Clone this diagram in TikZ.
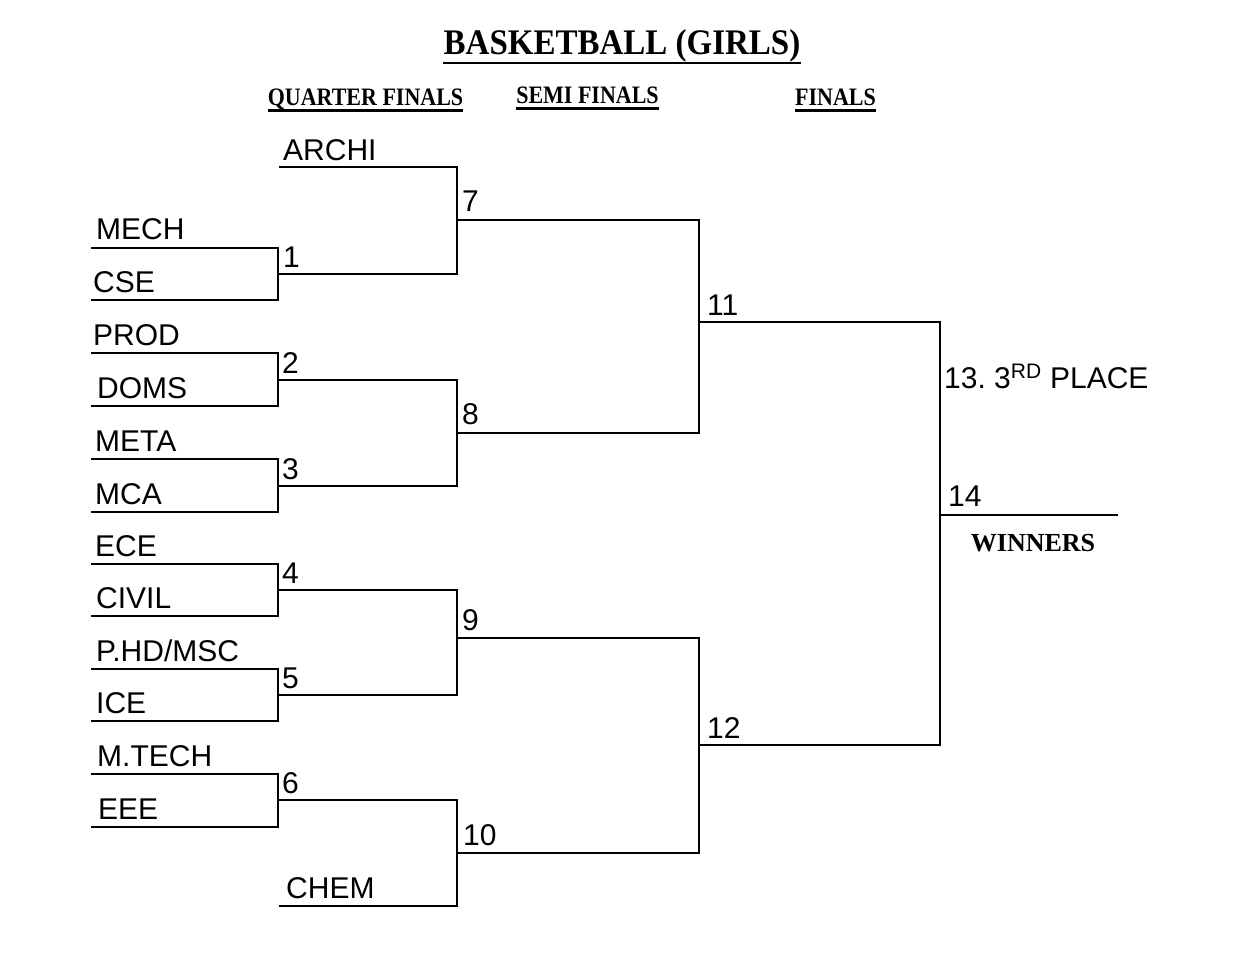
\documentclass[tikz,border=0pt]{standalone}
\usepackage{fontspec}
\setmainfont{Liberation Sans}
\newfontfamily\headfont{Liberation Serif}
\usetikzlibrary{calc}
\frenchspacing
\tikzset{
  bline/.style={line width=1.8pt, line join=miter},
  team/.style={anchor=base west, inner sep=0pt, font=\fontsize{30}{32}\selectfont},
  num/.style={anchor=base west, inner sep=0pt, font=\fontsize{30}{32}\selectfont},
  head/.style={anchor=base, inner sep=0pt, font=\headfont\bfseries\fontsize{22}{24}\selectfont},
  uline/.style={line width=2.2pt}
}
\begin{document}
\begin{tikzpicture}[x=1pt,y=-1pt]
\useasboundingbox (0,0) rectangle (1255,967);
% headings
\node[head, font=\headfont\bfseries\fontsize{33}{36}\selectfont] (title) at (622,54.5) {\scalebox{1}[1.09]{BASKETBALL (GIRLS)}};
\draw[line width=2.7pt] ($(title.base west)+(0,8.5)$) -- ($(title.base east)+(0,8.5)$);
\node[head] (qf) at (365.5,105) {\scalebox{1}[1.14]{QUARTER FINALS}};
\draw[uline] ($(qf.base west)+(0,5.5)$) -- ($(qf.base east)+(0,5.5)$);
\node[head] (sf) at (587.5,103) {\scalebox{1}[1.14]{SEMI FINALS}};
\draw[uline] ($(sf.base west)+(0,5.5)$) -- ($(sf.base east)+(0,5.5)$);
\node[head] (fi) at (835.5,105) {\scalebox{1}[1.14]{FINALS}};
\draw[uline] ($(fi.base west)+(0,5.5)$) -- ($(fi.base east)+(0,5.5)$);

% team line starts
\coordinate (tARCHI) at (279,167);
\coordinate (tMECH) at (91,248);
\coordinate (tCSE) at (91,300);
\coordinate (tPROD) at (91,353);
\coordinate (tDOMS) at (91,406);
\coordinate (tMETA) at (91,459);
\coordinate (tMCA) at (91,512);
\coordinate (tECE) at (91,564);
\coordinate (tCIVIL) at (91,616);
\coordinate (tPHD) at (91,669);
\coordinate (tICE) at (91,721);
\coordinate (tMTECH) at (91,774);
\coordinate (tEEE) at (91,827);
\coordinate (tCHEM) at (279,906);
% match points
\coordinate (m1) at (278,274);
\coordinate (m2) at (278,380);
\coordinate (m3) at (278,486);
\coordinate (m4) at (278,590);
\coordinate (m5) at (278,695);
\coordinate (m6) at (278,800);
\coordinate (m7) at (457,220);
\coordinate (m8) at (457,433);
\coordinate (m9) at (457,638);
\coordinate (m10) at (457,853);
\coordinate (m11) at (699,322);
\coordinate (m12) at (699,745);
\coordinate (m14) at (940,515);
\coordinate (wend) at (1118,515);

% bracket lines
\draw[bline] (tMECH) -| (m1) |- (tCSE);
\draw[bline] (tPROD) -| (m2) |- (tDOMS);
\draw[bline] (tMETA) -| (m3) |- (tMCA);
\draw[bline] (tECE) -| (m4) |- (tCIVIL);
\draw[bline] (tPHD) -| (m5) |- (tICE);
\draw[bline] (tMTECH) -| (m6) |- (tEEE);
\draw[bline] (tARCHI) -| (m7);
\draw[bline] (m1) -| (m7);
\draw[bline] (m2) -| (m8);
\draw[bline] (m3) -| (m8);
\draw[bline] (m4) -| (m9);
\draw[bline] (m5) -| (m9);
\draw[bline] (m6) -| (m10);
\draw[bline] (tCHEM) -| (m10);
\draw[bline] (m7) -| (m11);
\draw[bline] (m8) -| (m11);
\draw[bline] (m9) -| (m12);
\draw[bline] (m10) -| (m12);
\draw[bline] (m11) -| (m14);
\draw[bline] (m12) -| (m14);
\draw[bline] (m14) -- (wend);

% team names
\node[team] (nARCHI) at (283,160) {ARCHI};
\node[team] (nMECH) at (96,239) {MECH};
\node[team] (nCSE) at (93,292) {CSE};
\node[team] (nPROD) at (93,345) {PROD};
\node[team] (nDOMS) at (97,398) {DOMS};
\node[team] (nMETA) at (95,451) {META};
\node[team] (nMCA) at (95,504) {MCA};
\node[team] (nECE) at (95,556) {ECE};
\node[team] (nCIVIL) at (96,608) {CIVIL};
\node[team] (nPHD) at (96,661) {P.HD/MSC};
\node[team] (nICE) at (96,713) {ICE};
\node[team] (nMTECH) at (97,766) {M.TECH};
\node[team] (nEEE) at (98,819) {EEE};
\node[team] (nCHEM) at (286,898) {CHEM};

% match numbers
\node[num] (l1) at ($(m1)+(5,-7)$) {1};
\node[num] (l2) at ($(m2)+(4,-7)$) {2};
\node[num] (l3) at ($(m3)+(4,-7)$) {3};
\node[num] (l4) at ($(m4)+(4,-7)$) {4};
\node[num] (l5) at ($(m5)+(4,-7)$) {5};
\node[num] (l6) at ($(m6)+(4,-7)$) {6};
\node[num] (l7) at ($(m7)+(5,-9)$) {7};
\node[num] (l8) at ($(m8)+(5,-9)$) {8};
\node[num] (l9) at ($(m9)+(5,-8)$) {9};
\node[num] (l10) at ($(m10)+(6,-8)$) {10};
\node[num] (l11) at ($(m11)+(8,-7)$) {11};
\node[num] (l12) at ($(m12)+(8,-7)$) {12};
\node[num] (l13) at (944,388) {13. 3\textsuperscript{RD} PLACE};
\node[num] (l14) at ($(m14)+(8,-9)$) {14};
\node[head, font=\headfont\bfseries\fontsize{26}{28}\selectfont] (win) at (1033,551) {WINNERS};
\end{tikzpicture}
\end{document}
